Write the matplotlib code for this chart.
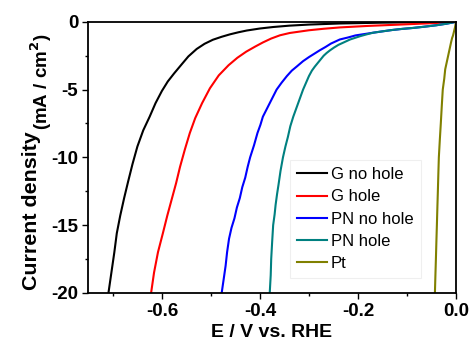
import matplotlib
matplotlib.use("Agg")
import matplotlib.pyplot as plt
from matplotlib.ticker import MultipleLocator, FuncFormatter

plt.rcParams['font.family'] = ['Liberation Sans', 'DejaVu Sans']
plt.rcParams['axes.unicode_minus'] = False

labels = ["G no hole", "G hole", "PN no hole", "PN hole", "Pt"]
colors = ["#000000", "#ff0000", "#0000ff", "#008080", "#808000"]

g_nohole_E = [-0.709, -0.703, -0.697, -0.692, -0.685, -0.677, -0.669, -0.660, -0.650, -0.638, -0.625, -0.613,
              -0.600, -0.588, -0.575, -0.560, -0.546, -0.529, -0.513, -0.496, -0.478, -0.461, -0.444, -0.427,
              -0.400, -0.373, -0.340, -0.300, -0.237, -0.150, -0.080, 0.0]
g_nohole_j = [-20, -18.5, -17, -15.6, -14.3, -13, -11.8, -10.5, -9.2, -8.0, -7.0, -6.0,
              -5.1, -4.4, -3.8, -3.15, -2.55, -2.0, -1.62, -1.32, -1.1, -0.92, -0.77, -0.64,
              -0.49, -0.38, -0.28, -0.2, -0.12, -0.06, -0.03, 0]

g_hole_E = [-0.622, -0.616, -0.608, -0.598, -0.589, -0.580, -0.571, -0.563, -0.553, -0.543, -0.532, -0.518,
            -0.502, -0.484, -0.464, -0.446, -0.428, -0.410, -0.394, -0.377, -0.359, -0.339, -0.300, -0.270,
            -0.237, -0.180, -0.114, -0.050, 0.0]
g_hole_j = [-20, -18.5, -17, -15.6, -14.3, -13.1, -11.9, -10.7, -9.4, -8.2, -7.1, -6.0,
            -4.9, -3.95, -3.2, -2.65, -2.2, -1.83, -1.52, -1.23, -0.99, -0.82, -0.62, -0.51,
            -0.41, -0.3, -0.2, -0.1, 0]

pn_nohole_E = [-0.478, -0.474, -0.470, -0.467, -0.463, -0.458, -0.452, -0.447, -0.441, -0.436, -0.430, -0.425,
               -0.420, -0.412, -0.405, -0.399, -0.394, -0.387, -0.380, -0.373, -0.366, -0.356, -0.345, -0.335,
               -0.325, -0.312, -0.300, -0.289, -0.278, -0.266, -0.255, -0.246, -0.237, -0.220, -0.205, -0.187,
               -0.169, -0.150, -0.130, -0.110, -0.088, -0.065, -0.040, -0.020, 0.0]
pn_nohole_j = [-20, -19, -18, -17, -16, -15.2, -14.5, -13.7, -13, -12.2, -11.5, -10.7,
               -10, -9.1, -8.2, -7.6, -7, -6.5, -6, -5.5, -5, -4.5, -4, -3.6,
               -3.3, -2.9, -2.6, -2.35, -2.1, -1.85, -1.6, -1.45, -1.3, -1.15, -1.0, -0.9,
               -0.8, -0.7, -0.6, -0.52, -0.45, -0.36, -0.25, -0.14, 0]

pn_hole_E = [-0.380, -0.378, -0.377, -0.375, -0.373, -0.370, -0.368, -0.365, -0.362, -0.358, -0.353, -0.348,
             -0.343, -0.338, -0.332, -0.326, -0.320, -0.316, -0.312, -0.306, -0.300, -0.294, -0.288, -0.279,
             -0.270, -0.264, -0.257, -0.249, -0.240, -0.228, -0.216, -0.205, -0.195, -0.182, -0.169, -0.150,
             -0.130, -0.110, -0.088, -0.065, -0.040, -0.020, 0.0]
pn_hole_j = [-20, -18.7, -17.5, -16.2, -15, -14.2, -13.5, -12.7, -12, -11, -10, -9.2,
             -8.5, -7.7, -7, -6.4, -5.8, -5.4, -5, -4.5, -4, -3.6, -3.3, -2.9,
             -2.5, -2.3, -2.1, -1.9, -1.7, -1.5, -1.3, -1.17, -1.05, -0.92, -0.8, -0.7,
             -0.6, -0.52, -0.45, -0.36, -0.25, -0.14, 0]

pt_E = [-0.043, -0.042, -0.041, -0.040, -0.039, -0.038, -0.037, -0.036, -0.035, -0.033, -0.031, -0.029,
        -0.027, -0.024, -0.022, -0.019, -0.016, -0.013, -0.010, -0.008, -0.006, -0.004, -0.002, 0.0]
pt_j = [-20, -18.7, -17.5, -16.2, -15, -13.7, -12.5, -11.2, -10, -8.7, -7.5, -6.2,
        -5, -4.2, -3.5, -3.0, -2.5, -2.0, -1.5, -1.2, -1, -0.7, -0.4, 0]

series = [(g_nohole_E, g_nohole_j), (g_hole_E, g_hole_j), (pn_nohole_E, pn_nohole_j),
          (pn_hole_E, pn_hole_j), (pt_E, pt_j)]

fig = plt.figure(figsize=(4.75, 3.47), dpi=100)
ax = fig.add_axes([0.185, 0.156, 0.775, 0.781])

for (E, j), lab, c in zip(series, labels, colors):
    ax.plot(E, j, color=c, lw=1.5, label=lab)

ax.set_xlim(-0.751, 0.0)
ax.set_ylim(-20, 0)
ax.xaxis.set_major_locator(MultipleLocator(0.2))
ax.xaxis.set_minor_locator(MultipleLocator(0.1))
ax.yaxis.set_major_locator(MultipleLocator(5))
ax.yaxis.set_minor_locator(MultipleLocator(2.5))
ax.xaxis.set_major_formatter(FuncFormatter(lambda v, p: f"{v:.1f}" if abs(v) > 1e-9 else "0.0"))
ax.yaxis.set_major_formatter(FuncFormatter(lambda v, p: f"{v:.0f}" if abs(v) > 1e-9 else "0"))
ax.tick_params(which='both', direction='out', width=1.0, labelsize=13.5, pad=2.5)
ax.tick_params(which='major', length=4.5)
ax.tick_params(which='minor', length=2.5)
for lbl in ax.get_xticklabels() + ax.get_yticklabels():
    lbl.set_fontweight('bold')
for s in ax.spines.values():
    s.set_linewidth(1.3)

ax.set_xlabel("E / V vs. RHE", fontsize=14, fontweight='bold', labelpad=3)
fig.text(0.066, (347 - 290) / 347, "Current density", rotation=90, fontsize=15.4,
         fontweight='bold', ha='center', va='bottom')
fig.text(0.087, (347 - 130) / 347, "(mA / cm$^{\\mathbf{2}}$)", rotation=90, fontsize=13.5,
         fontweight='bold', ha='center', va='bottom')

leg = ax.legend(loc='upper left', bbox_to_anchor=(0.549, 0.491), borderaxespad=0, fontsize=12,
                frameon=True, fancybox=False, handlelength=1.8, handletextpad=0.2,
                labelspacing=0.43, borderpad=0.45)
leg.get_frame().set_edgecolor('#ececec')
leg.get_frame().set_linewidth(0.8)

fig.savefig("out.png", dpi=100)
